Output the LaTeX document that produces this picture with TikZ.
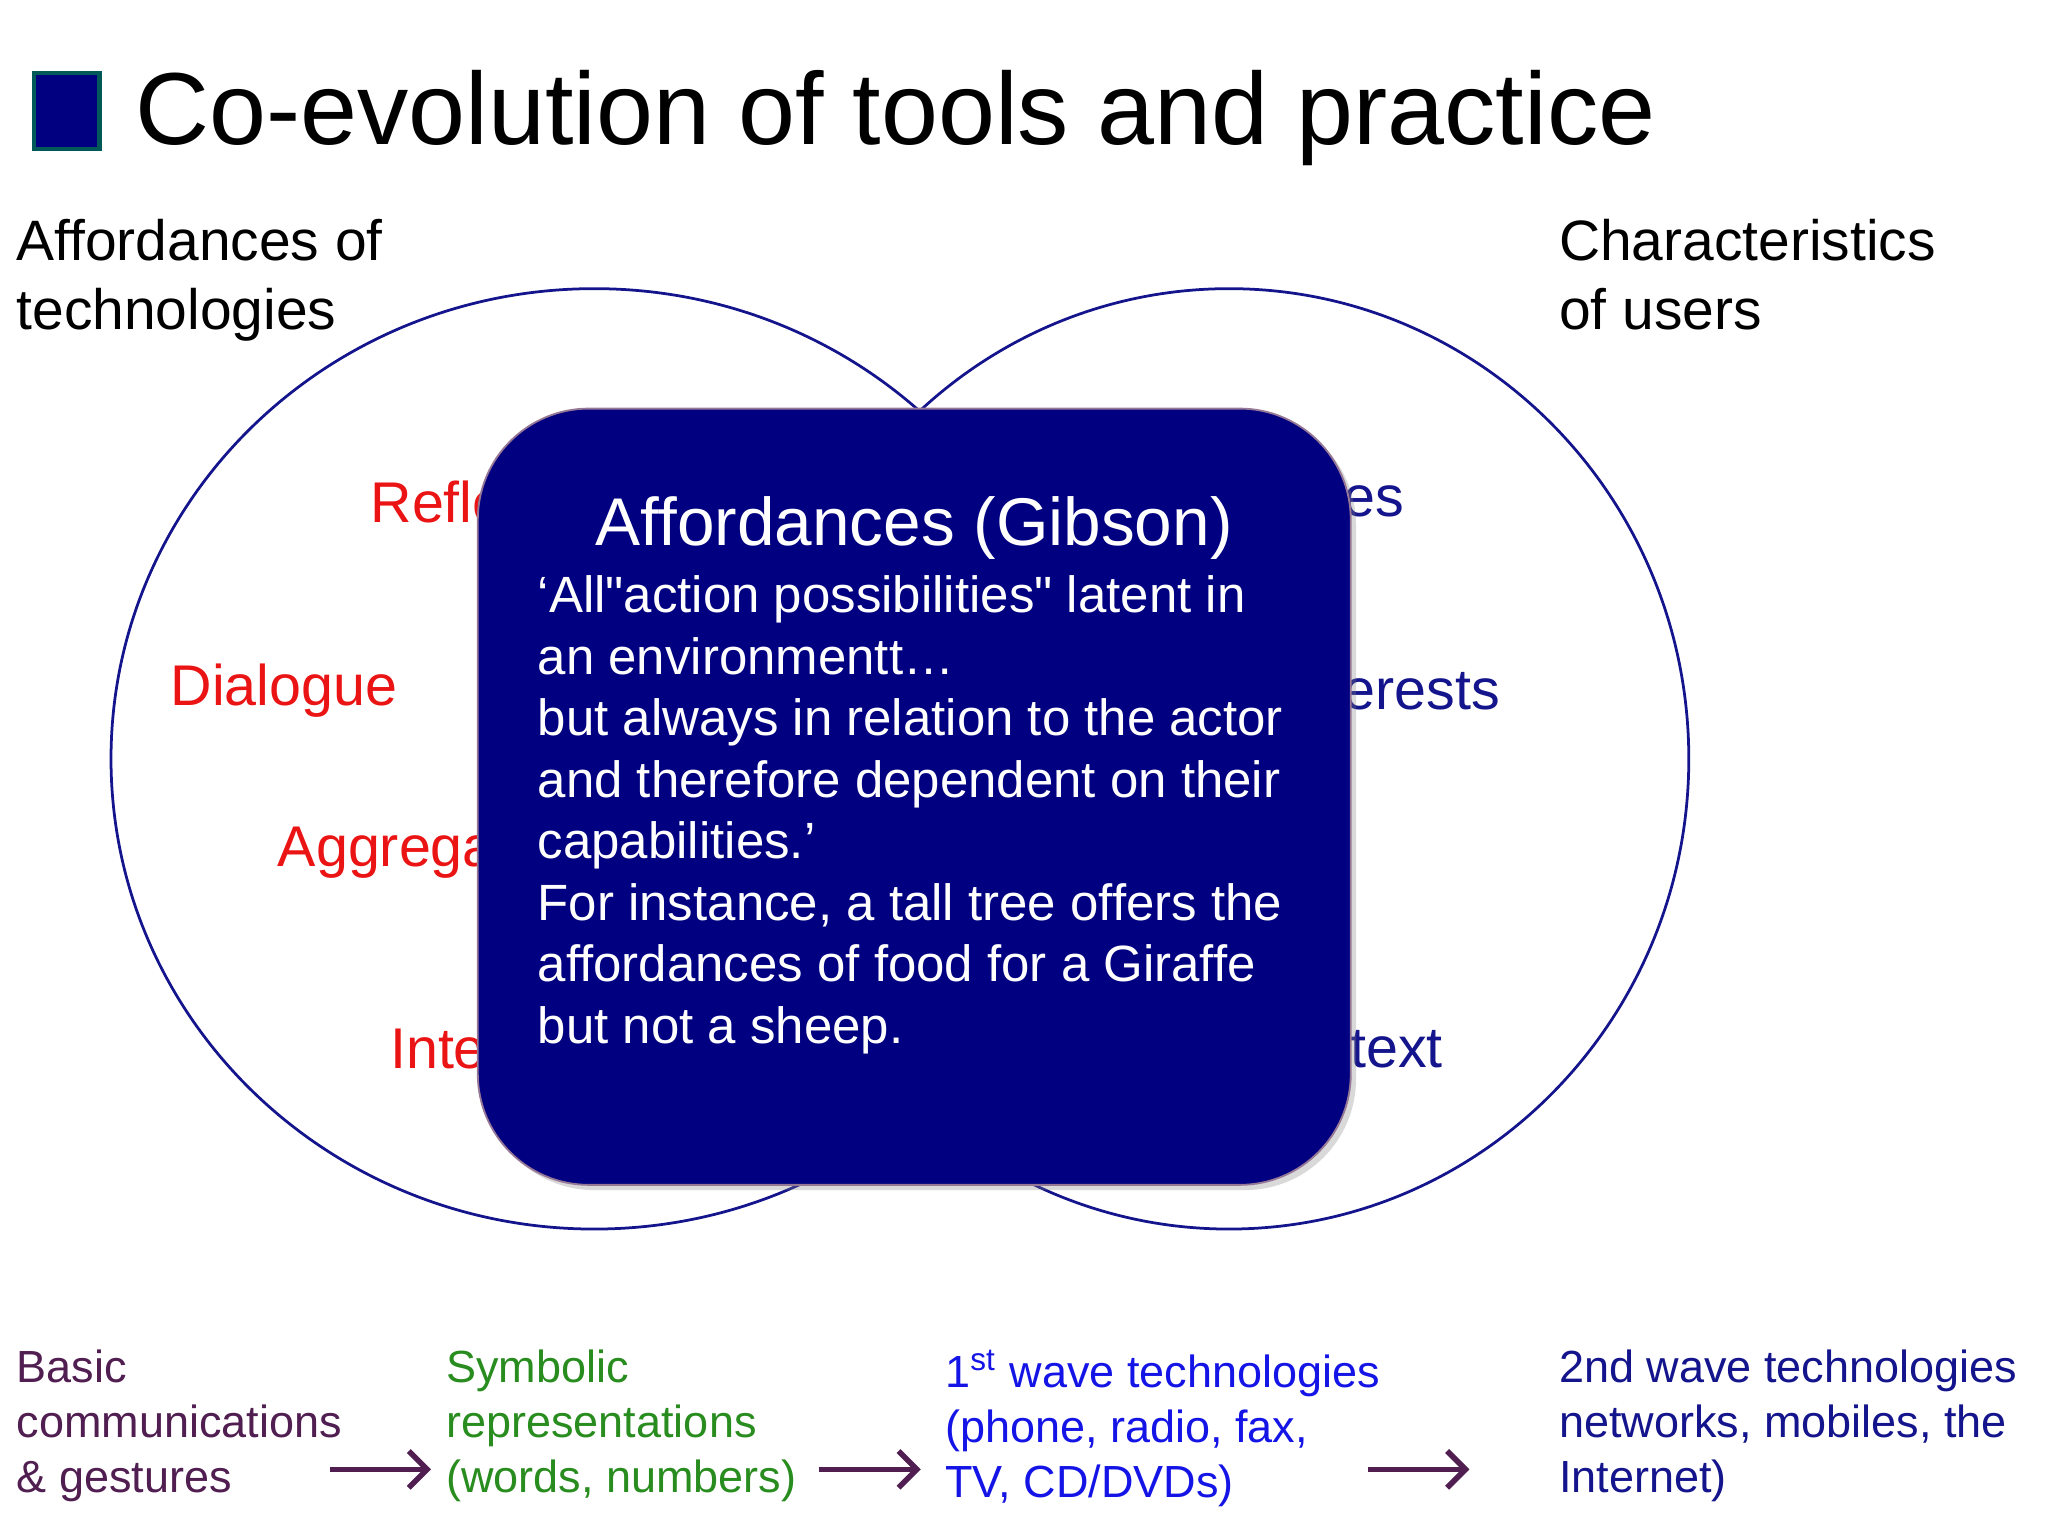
\documentclass[tikz,border=0pt]{standalone}
\usepackage{fontspec}
\setmainfont{Liberation Sans}
\usetikzlibrary{shadows,arrows.meta}
\definecolor{navy}{RGB}{0,0,128}
\definecolor{circ}{RGB}{20,20,140}
\definecolor{redt}{RGB}{235,20,20}
\definecolor{bluet}{RGB}{20,20,140}
\definecolor{purp}{RGB}{80,30,80}
\definecolor{grn}{RGB}{40,140,30}
\definecolor{blu}{RGB}{20,20,230}
\tikzset{lbl/.style={anchor=west,inner sep=0pt,font=\fontsize{12.5}{15}\selectfont},
 bot/.style={anchor=north west,inner sep=0pt,align=left,font=\fontsize{9.8}{12}\selectfont},
 arr/.style={draw=purp,line width=1.2pt,-{Straight Barb[length=4pt,width=8pt]}}}
\begin{document}
\begin{tikzpicture}[x=0.01cm,y=-0.01cm]
\useasboundingbox (0,0) rectangle (1568,1176);
\node[draw=teal!70!black,fill=navy,minimum width=0.5cm,minimum height=0.58cm,line width=1pt,inner sep=0pt] (sq) at (51,85) {};
\node[anchor=west,inner sep=0pt,font=\fontsize{22.3}{27}\selectfont] (title) at (103,90) {Co-evolution of tools and practice};
\node[anchor=north west,inner sep=0pt,align=left,font=\fontsize{12.4}{15}\selectfont] (aff) at (12,167) {Affordances of\\technologies};
\node[anchor=north west,inner sep=0pt,align=left,font=\fontsize{12.4}{15}\selectfont] (chr) at (1193,167) {Characteristics\\of users};
\draw[circ,line width=0.6pt] (455,581) ellipse [x radius=370,y radius=360];
\draw[circ,line width=0.6pt] (941,581) ellipse [x radius=352,y radius=360];
\node[lbl,text=redt] (r1) at (283,384) {Refle};
\node[lbl,text=redt] (r2) at (130,529) {Dialogue};
\node[lbl,text=redt] (r3) at (212,653) {Aggrega};
\node[lbl,text=redt] (r4) at (298,803) {Inte};
\node[lbl,text=bluet] (b1) at (1028,384) {es};
\node[lbl,text=bluet] (b2) at (1028,529) {erests};
\node[lbl,text=bluet] (b3) at (1033,803) {text};
\node[draw=purp!60,fill=navy,rounded corners=0.85cm,minimum width=6.68cm,minimum height=5.94cm,drop shadow={opacity=0.3,shadow xshift=0.4mm,shadow yshift=-0.4mm}] (box) at (700,610) {};
\node[text=white,inner sep=0pt,font=\fontsize{14.7}{17}\selectfont] (bt) at (700,404) {Affordances (Gibson)};
\node[text=white,anchor=north west,inner sep=0pt,align=left,font=\fontsize{11.1}{13.4}\selectfont] (bb) at (411,440) {‘All\textquotedbl action possibilities\textquotedbl{} latent in\\an environmentt…\\but always in relation to the actor\\and therefore dependent on their\\capabilities.’\\For instance, a tall tree offers the\\affordances of food for a Giraffe\\but not a sheep.};
\node[bot,text=purp] (t1) at (12,1033) {Basic\\communications\\\& gestures};
\node[bot,text=grn] (t2) at (341,1033) {Symbolic\\representations\\(words, numbers)};
\node[bot,text=blu] (t3) at (723,1033) {1\textsuperscript{st} wave technologies\\(phone, radio, fax,\\TV, CD/DVDs)};
\node[bot,text=bluet] (t4) at (1193,1033) {2nd wave technologies\\networks, mobiles, the\\Internet)};
\coordinate (a1s) at (253,1125); \coordinate (a1e) at (330,1125);
\coordinate (a2s) at (627,1125); \coordinate (a2e) at (705,1125);
\coordinate (a3s) at (1047,1125); \coordinate (a3e) at (1125,1125);
\draw[arr] (a1s) -- (a1e);
\draw[arr] (a2s) -- (a2e);
\draw[arr] (a3s) -- (a3e);
\end{tikzpicture}
\end{document}
